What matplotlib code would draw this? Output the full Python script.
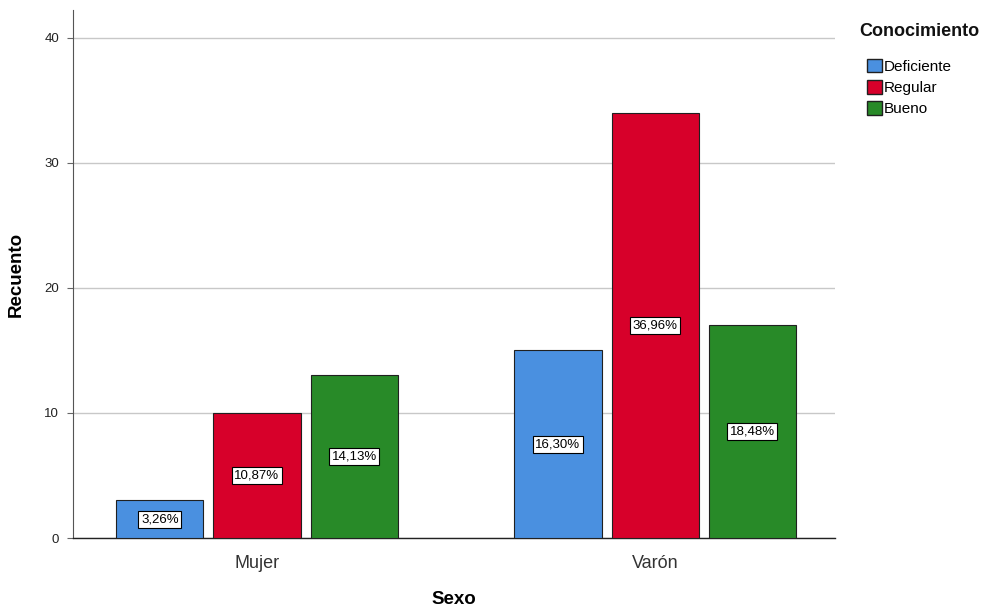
import matplotlib
matplotlib.use("Agg")
import matplotlib.pyplot as plt
import numpy as np
from matplotlib.patches import Patch

plt.rcParams['font.family'] = ['Liberation Sans', 'DejaVu Sans']

categories = ["Mujer", "Varón"]
series_names = ["Deficiente", "Regular", "Bueno"]
deficiente = [3, 15]
regular = [10, 34]
bueno = [13, 17]
values = [deficiente, regular, bueno]
pct_labels = [["3,26%", "16,30%"], ["10,87%", "36,96%"], ["14,13%", "18,48%"]]
colors = ["#4a90e0", "#d7002a", "#288a28"]
yticks = [0, 10, 20, 30, 40]

fig = plt.figure(figsize=(9.93, 6.12), dpi=100)
ax = fig.add_axes([0.0735, 0.1209, 0.7675, 0.8628])

x = np.arange(len(categories))
width = 0.219
step = 0.244
for i, (name, vals) in enumerate(zip(series_names, values)):
    pos = x + (i - 1) * step
    ax.bar(pos, vals, width=width, color=colors[i], edgecolor="#202020",
           linewidth=0.8, zorder=3)
    for p, v, lab in zip(pos, vals, pct_labels[i]):
        ax.text(p, v / 2, lab, ha="center", va="center", fontsize=9.5,
                zorder=4,
                bbox=dict(boxstyle="square,pad=0.2", fc="white", ec="black", lw=0.8))

ax.set_xlim(-0.462, 1.452)
ax.set_ylim(0, 42.2)
ax.set_yticks(yticks)
ax.set_yticklabels([str(t) for t in yticks], fontsize=9.5, color="#222222")
ax.set_xticks(x)
ax.set_xticklabels(categories, fontsize=13, color="#333333")
ax.tick_params(axis="x", length=0, pad=12)
ax.tick_params(axis="y", length=4, width=0.8, color="#666666", pad=6)
ax.grid(axis="y", color="#c8c8c8", linewidth=1, zorder=0)
ax.set_axisbelow(True)
for s in ["top", "right"]:
    ax.spines[s].set_visible(False)
ax.spines["left"].set_color("#555555")
ax.spines["bottom"].set_color("#222222")
ax.spines["bottom"].set_linewidth(1.0)

ax.set_ylabel("Recuento", fontsize=13.5, fontweight="bold", labelpad=14)
ax.set_xlabel("Sexo", fontsize=13.5, fontweight="bold", labelpad=14)

fig.text(919 / 993, 1 - 32 / 612, "Conocimiento", ha="center", va="center",
         fontsize=13, fontweight="bold", color="#111111")
handles = [Patch(facecolor=c, edgecolor="#202020", label=n) for c, n in zip(colors, series_names)]
leg = fig.legend(handles=handles, loc="upper left",
                 bbox_to_anchor=(0.862, 1 - 48 / 612), frameon=False, fontsize=11,
                 handlelength=1.0, handleheight=1.0, handletextpad=0.15,
                 labelspacing=0.4, borderpad=0.2)

fig.savefig("out.png", dpi=100, facecolor="white")
